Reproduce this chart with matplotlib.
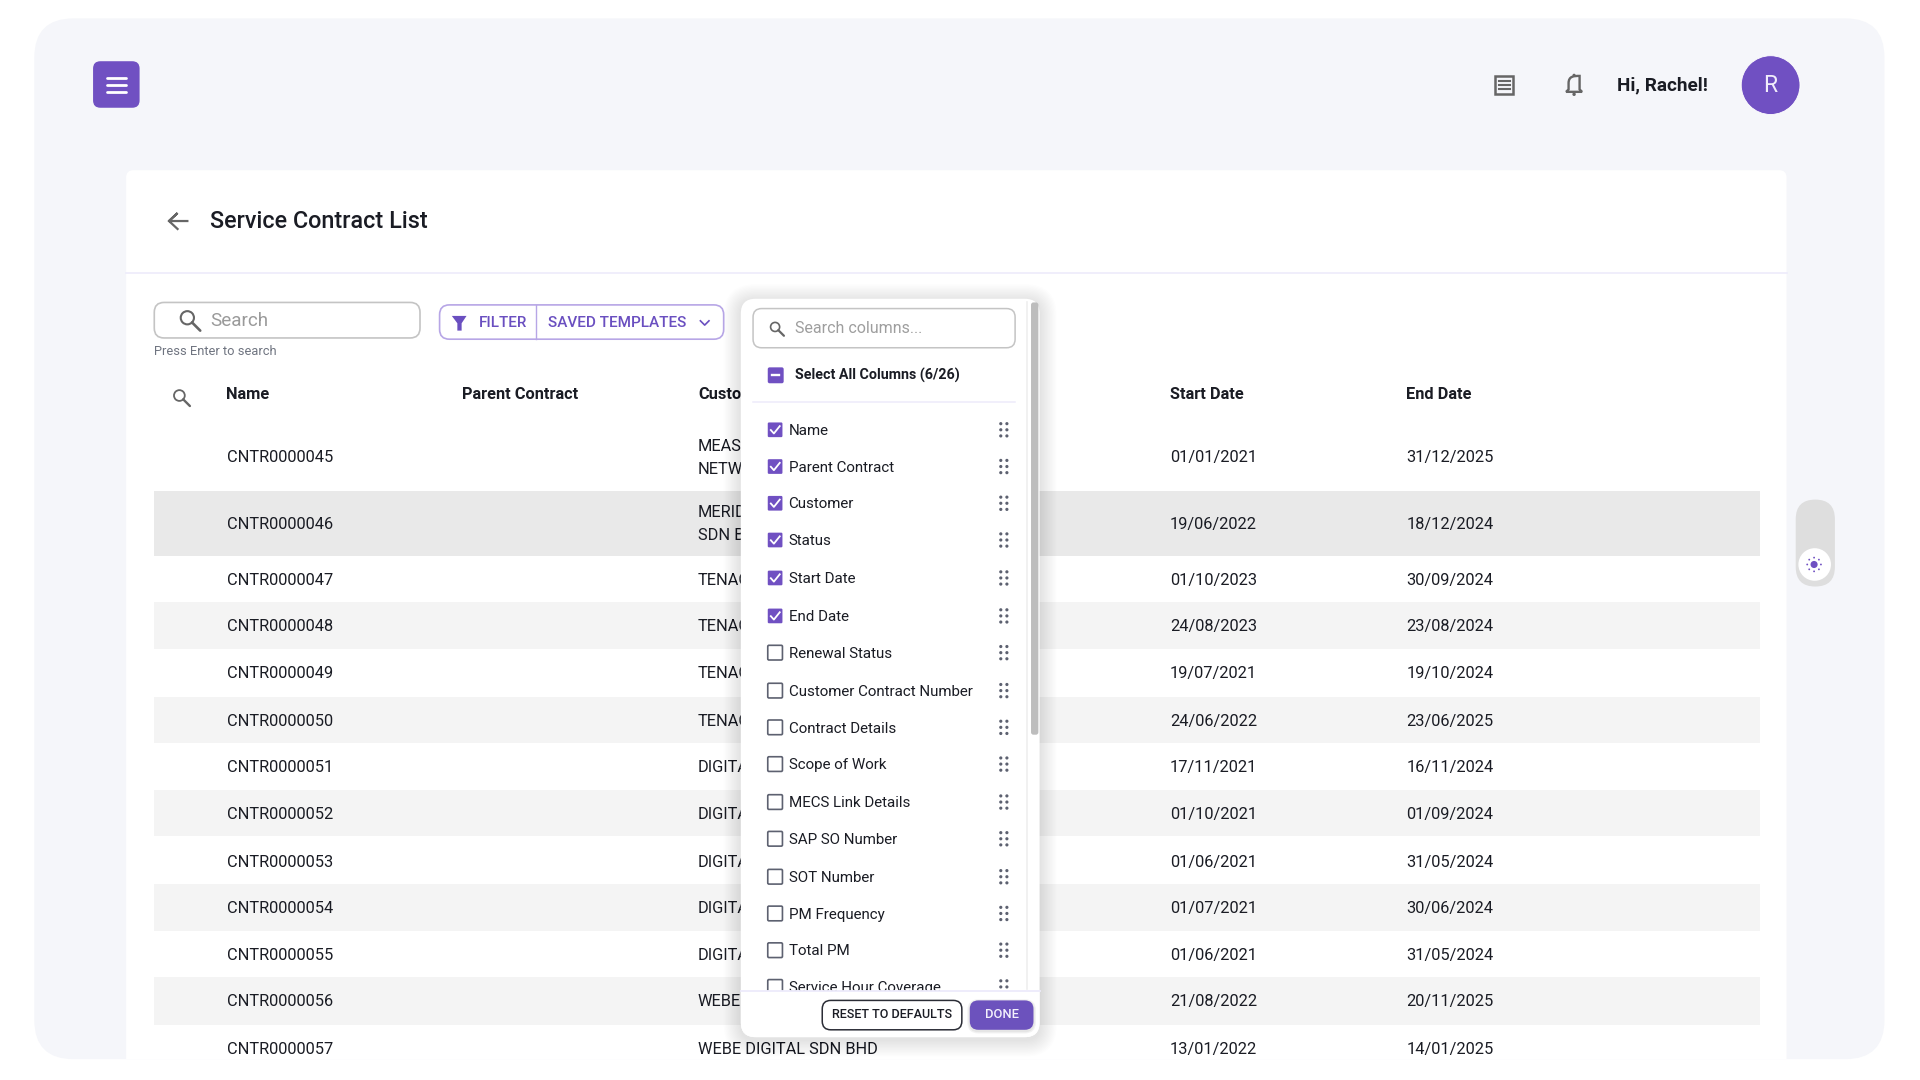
#%% Libraries
"""
Service contract list screen with the column picker open
"""
import numpy as np
import matplotlib
matplotlib.use('Agg')
import matplotlib.pyplot as plt
from matplotlib.patches import FancyBboxPatch, Rectangle, Circle, Polygon, PathPatch
from matplotlib.path import Path

plt.rcParams['font.family'] = ['Roboto', 'DejaVu Sans']

#%% Data
headers = ['Name', 'Parent Contract', 'Customer', 'Start Date', 'End Date']
header_x = [184, 377, 570, 955, 1148]
names = ['CNTR0000045', 'CNTR0000046', 'CNTR0000047', 'CNTR0000048', 'CNTR0000049',
         'CNTR0000050', 'CNTR0000051', 'CNTR0000052', 'CNTR0000053', 'CNTR0000054',
         'CNTR0000055', 'CNTR0000056', 'CNTR0000057']
customers = ['MEASAT\nNETWORK', 'MERIDIAN\nSDN BHD', 'TENAGA', 'TENAGA', 'TENAGA', 'TENAGA',
             'DIGITAL', 'DIGITAL', 'DIGITAL', 'DIGITAL', 'DIGITAL', 'WEBE',
             'WEBE DIGITAL SDN BHD']
start_dates = ['01/01/2021', '19/06/2022', '01/10/2023', '24/08/2023', '19/07/2021',
               '24/06/2022', '17/11/2021', '01/10/2021', '01/06/2021', '01/07/2021',
               '01/06/2021', '21/08/2022', '13/01/2022']
end_dates = ['31/12/2025', '18/12/2024', '30/09/2024', '23/08/2024', '19/10/2024',
             '23/06/2025', '16/11/2024', '01/09/2024', '31/05/2024', '30/06/2024',
             '31/05/2024', '20/11/2025', '14/01/2025']
row_y = [373, 427, 473, 511, 549, 588, 626, 664, 703, 741, 779, 817, 856]
band_top = [401, 492, 569, 645, 722, 798]
band_bottom = [454, 530, 607, 683, 760, 837]
band_col = ['#E9E9E9', '#F4F4F4', '#F4F4F4', '#F4F4F4', '#F4F4F4', '#F4F4F4']
col_items = ['Name', 'Parent Contract', 'Customer', 'Status', 'Start Date', 'End Date',
             'Renewal Status', 'Customer Contract Number', 'Contract Details', 'Scope of Work',
             'MECS Link Details', 'SAP SO Number', 'SOT Number', 'PM Frequency', 'Total PM',
             'Service Hour Coverage']
col_y = [351, 381, 411, 441, 472, 503, 533, 564, 594, 624, 655, 685, 716, 746, 776, 806]
n_checked = 6

PURPLE = '#7050C2'
TEXT = '#1A1C24'

#%% Helpers
fig = plt.figure(figsize=(19.2, 10.8), dpi=100, facecolor='white')
ax = fig.add_axes([0, 0, 1, 1])
ax.set_xlim(0, 1568)
ax.set_ylim(882, 0)
ax.axis('off')


def rbox(x0, y0, x1, y1, r, fc='white', ec='none', lw=0, z=1, alpha=None):
    p = FancyBboxPatch((x0 + r, y0 + r), x1 - x0 - 2 * r, y1 - y0 - 2 * r,
                       boxstyle='round,pad=%f,rounding_size=%f' % (r, r),
                       fc=fc, ec=ec, lw=lw, zorder=z, alpha=alpha)
    ax.add_patch(p)
    return p


def shadow(x0, y0, x1, y1, r, spread, a, z, clip=None):
    for i in range(spread, 0, -1):
        s = rbox(x0 - i, y0 - i, x1 + i, y1 + i, r + i, fc='black', z=z, alpha=a)
        if clip is not None:
            s.set_clip_path(clip)


def label(x, y, s, size=11.8, color=TEXT, weight='normal', ha='left', z=3):
    return ax.text(x, y + 1.2, s, fontsize=size, color=color, weight=weight, ha=ha,
                   va='center', zorder=z, linespacing=1.65)


def magnifier(x, y, r, color, lw, z=3):
    ax.add_patch(Circle((x, y), r, fc='none', ec=color, lw=lw, zorder=z))
    ax.plot([x + r * 0.7, x + r * 1.95], [y + r * 0.7, y + r * 1.95], color=color, lw=lw + 0.4,
            zorder=z, solid_capstyle='round')


#%% Page background and card
panel = rbox(28, 15, 1539, 865, 32, fc='#F5F6FA', z=0)
shadow(103, 139, 1459, 900, 6, 16, 0.0014, 0.5, clip=panel)
rbox(103, 139, 1459, 900, 6, fc='white', z=1).set_clip_path(panel)
ax.plot([103, 1459], [223, 223], color='#EDEBFB', lw=1.2, zorder=2)

# top bar
rbox(76, 50, 114, 88, 6, fc=PURPLE, z=2)
for yy in [63.5, 69.5, 75.5]:
    ax.plot([87, 103], [yy, yy], color='white', lw=2, zorder=3, solid_capstyle='round')

ax.add_patch(Rectangle((1221, 62), 15, 15, fc='none', ec='#666666', lw=1.8, zorder=3))
for yy in [66, 69.5, 73]:
    ax.plot([1224, 1225.5], [yy, yy], color='#666666', lw=1.5, zorder=3)
    ax.plot([1227.5, 1233.5], [yy, yy], color='#666666', lw=1.5, zorder=3)

bell = Path([(1279, 75), (1281, 73), (1281, 68), (1281, 62), (1285.5, 62), (1290, 62), (1290, 68),
             (1290, 73), (1292, 75), (1279, 75)],
            [Path.MOVETO, Path.LINETO, Path.LINETO, Path.CURVE4, Path.CURVE4, Path.CURVE4, Path.LINETO,
             Path.LINETO, Path.LINETO, Path.CLOSEPOLY])
ax.add_patch(PathPatch(bell, fc='none', ec='#666666', lw=1.7, zorder=3))
ax.add_patch(Circle((1285.5, 61.5), 1.3, fc='#666666', ec='none', zorder=3))
ax.add_patch(Circle((1285.5, 77), 1.4, fc='#666666', ec='none', zorder=3))

label(1320.5, 68.8, 'Hi, Rachel!', size=13.55, weight='bold')
ax.add_patch(Circle((1446, 69.5), 24, fc=PURPLE, ec='white', lw=0.6, zorder=3))
label(1446, 68.8, 'R', size=16.5, color='#F1EDFB', ha='center', z=4)

# theme toggle
rbox(1466.5, 408, 1498.5, 479, 16, fc='#DEDEDE', z=2)
ax.add_patch(Circle((1482, 461), 13.3, fc='white', ec='none', zorder=3))
ax.add_patch(Circle((1481.5, 461), 2.9, fc=PURPLE, ec='none', zorder=4))
for deg in range(0, 360, 45):
    ax.add_patch(Circle((1481.5 + 5.6 * np.cos(np.radians(deg)), 461 + 5.6 * np.sin(np.radians(deg))),
                        0.75, fc=PURPLE, ec='none', zorder=4))

#%% Card header and toolbar
ax.plot([153, 138, 145, 138, 145], [180.5, 180.5, 174, 180.5, 187], color='#666666', lw=1.6, zorder=3,
        solid_joinstyle='miter')
label(171.5, 180, 'Service Contract List', size=16.8, weight='medium')

rbox(126, 247, 343, 276, 8, fc='white', ec='#C4C4C4', lw=1.2, z=2)
magnifier(153, 259.5, 5.4, '#666666', 1.5)
label(171.5, 260.8, 'Search', size=13.6, color='#9A9A9A')
label(126, 286.2, 'Press Enter to search', size=9.3, color='#6F7480')

rbox(359, 249, 591, 277, 8, fc='white', ec='#B7A6E6', lw=1.2, z=2)
ax.plot([438, 438], [249, 277], color='#B7A6E6', lw=1.0, zorder=3)
ax.add_patch(Polygon([(369, 258), (381, 258), (377, 264), (377, 270), (373.5, 270), (373.5, 264)],
                     fc='#6A4FC0', ec='none', zorder=3))
label(391, 262.5, 'FILTER', size=10.9, color='#6A4FC0', weight='medium')
label(447.5, 262.5, 'SAVED TEMPLATES', size=11, color='#6A4FC0', weight='medium')
ax.plot([572, 575.5, 579], [262, 265.5, 262], color='#6A4FC0', lw=1.2, zorder=3)

#%% Table
magnifier(146.5, 323, 4.4, '#666666', 1.3)
for h, x in zip(headers, header_x):
    label(x + 0.5, 321, h, size=11.8, weight='bold')

for t, b, c in zip(band_top, band_bottom, band_col):
    ax.add_patch(Rectangle((126, t), 1311, b - t, fc=c, ec='none', zorder=1.5))

for i in range(len(names)):
    label(185, row_y[i] - 0.2, names[i])
    label(570, row_y[i] - 0.2, customers[i])
    label(955.5, row_y[i] - 0.2, start_dates[i])
    label(1148.5, row_y[i] - 0.2, end_dates[i])

#%% Column picker
shadow(605, 246, 849, 849, 12, 14, 0.006, 5)
rbox(605, 244, 849, 847, 12, fc='white', z=6)
ax.plot([838.7, 838.7], [247, 808], color='#EFEFEF', lw=1.2, zorder=7)
rbox(842, 247, 848, 600, 2, fc='#BDBDBD', z=7)

rbox(615, 252, 829, 284, 7, fc='white', ec='#C4C4C4', lw=1.1, z=7)
magnifier(633, 267, 3.7, '#666666', 1.2, z=8)
label(649, 267.2, 'Search columns...', size=11.5, color='#9E9E9E', z=8)

rbox(627, 300, 640, 313, 1.5, fc=PURPLE, z=7)
ax.plot([630.5, 636.5], [306.5, 306.5], color='white', lw=1.7, zorder=8)
label(649, 305.5, 'Select All Columns (6/26)', size=10.25, weight='bold', z=8)
ax.plot([615, 829], [328.5, 328.5], color='#EDEBFB', lw=1.1, zorder=7)

for i, (item, y) in enumerate(zip(col_items, col_y)):
    if i < n_checked:
        rbox(627, y - 6, 639, y + 6, 1, fc=PURPLE, z=7)
        ax.plot([629.5, 632, 636.8], [y + 0.2, y + 3, y - 3], color='white', lw=1.3, zorder=8)
    else:
        rbox(627, y - 6, 639, y + 6, 1, fc='white', ec='#5D6170', lw=1.2, z=7)
    label(644, y - 0.2, item, size=10.9, z=8)
    for dx in [817.3, 822.3]:
        for dy in [-5, 0, 5]:
            ax.add_patch(Circle((dx, y + dy), 1.3, fc='#5D6170', ec='none', zorder=8))

# footer hides the list item that scrolls under it
ft = Path([(605, 809), (849, 809), (849, 835), (849, 847), (837, 847), (617, 847), (605, 847),
           (605, 835), (605, 809)],
          [Path.MOVETO, Path.LINETO, Path.LINETO, Path.CURVE3, Path.CURVE3, Path.LINETO, Path.CURVE3,
           Path.CURVE3, Path.CLOSEPOLY])
ax.add_patch(PathPatch(ft, fc='white', ec='none', zorder=9))
ax.plot([605, 849], [809, 809], color='#EDEBFB', lw=1.3, zorder=10)
rbox(671.5, 817, 785.5, 841, 7, fc='white', ec='#2B2D36', lw=1.1, z=10)
label(728.5, 827.6, 'RESET TO DEFAULTS', size=9.05, weight='medium', ha='center', z=11)
shadow(792, 818, 844, 842, 7, 2, 0.05, 9.5)
rbox(792, 817, 844, 841, 7, fc='#6C52BD', z=10)
label(818, 827.6, 'DONE', size=9.4, color='#F3F0FC', weight='medium', ha='center', z=11)

fig.savefig('out.png', dpi=100, facecolor='white')
